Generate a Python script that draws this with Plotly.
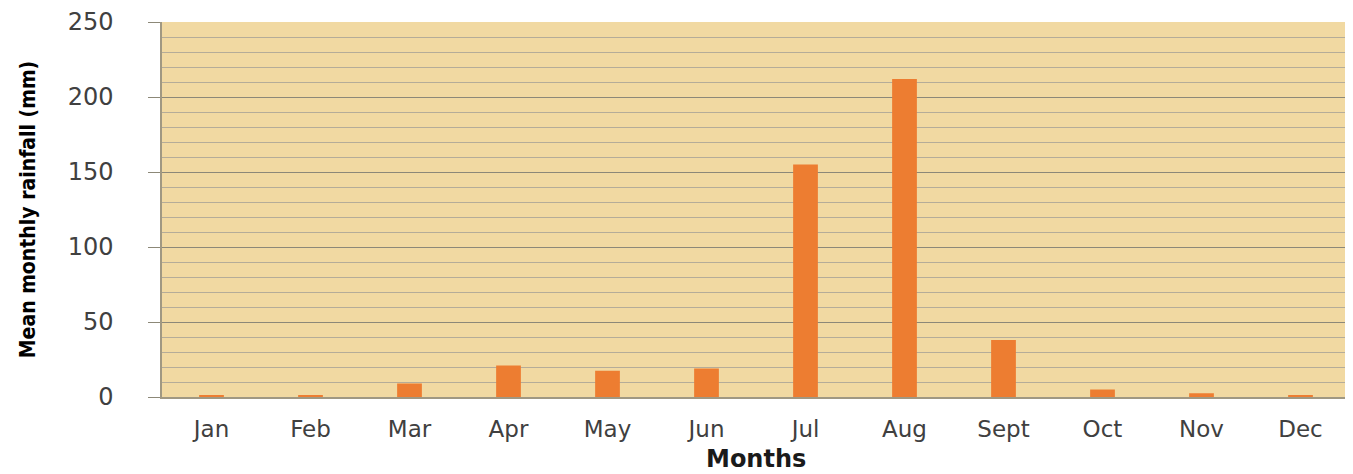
import plotly.graph_objects as go

months = ["Jan", "Feb", "Mar", "Apr", "May", "Jun", "Jul", "Aug", "Sept", "Oct", "Nov", "Dec"]
rainfall = [0.8, 0.8, 9, 21, 17.5, 19, 155, 212, 38, 5, 2.5, 1]

fig = go.Figure(go.Bar(x=months, y=rainfall, marker=dict(color="#ED7D31", line=dict(width=0))))

fig.update_layout(
    width=1345, height=466,
    margin=dict(l=154, r=3, t=14, b=77),
    paper_bgcolor="white",
    plot_bgcolor="#F1D9A2",
    bargap=0.75,
    showlegend=False,
    font=dict(family="DejaVu Sans, sans-serif", color="#404040"),
    annotations=[dict(
        text="<b>Months</b>", xref="paper", yref="paper", x=0.5, y=-62 / 375,
        xanchor="center", yanchor="middle", showarrow=False,
        font=dict(size=24, color="#1a1a1a", family="DejaVu Sans, sans-serif"),
    )],
)
fig.update_xaxes(
    automargin=False,
    showline=True, linecolor="#A09882", linewidth=2,
    ticks="", tickfont=dict(size=23, color="#404040"), ticklabelstandoff=10,
)
fig.update_yaxes(
    automargin=False,
    range=[0, 250], dtick=50, showline=True, linecolor="#A09882", linewidth=1.5,
    ticks="outside", ticklen=12, tickcolor="#8C8878",
    gridcolor="#8C8878", gridwidth=1.2,
    minor=dict(dtick=10, showgrid=True, gridcolor="#B5AC98", gridwidth=1),
    tickfont=dict(size=24, color="#404040"), ticklabelstandoff=30,
    title=dict(text="<b>Mean monthly rainfall (mm)</b>", font=dict(size=21, color="#000000", family="DejaVu Sans Condensed, sans-serif"), standoff=26),
    zeroline=False,
)

fig.write_html("out.html")
